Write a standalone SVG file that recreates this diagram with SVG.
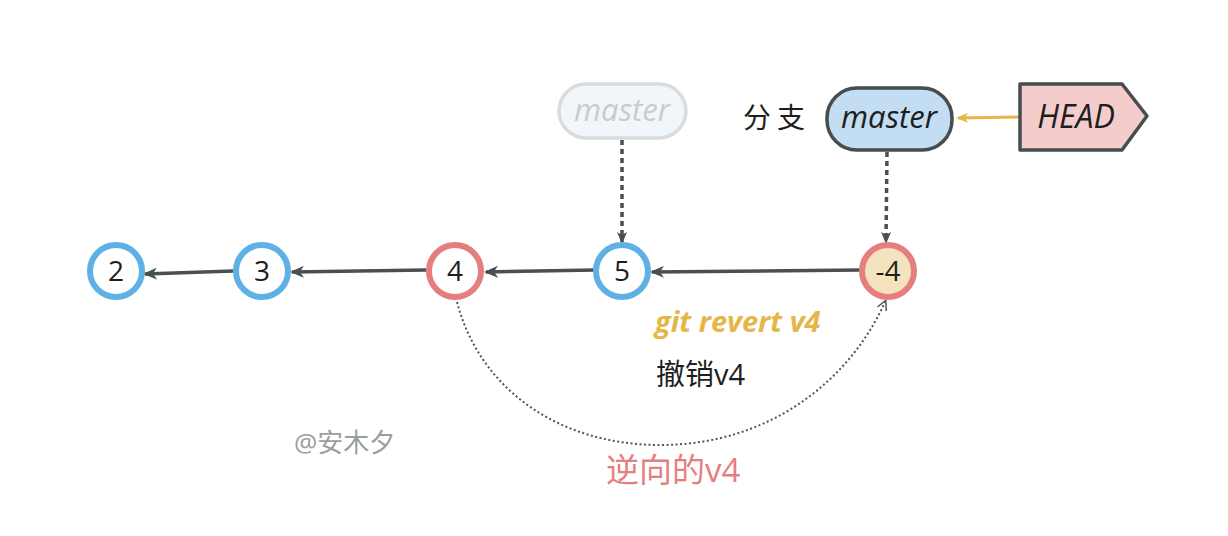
<svg xmlns="http://www.w3.org/2000/svg" width="1228" height="536" viewBox="0 0 1228 536">
<style>
text{font-family:"Open Sans","Noto Sans","Noto Sans CJK SC",sans-serif;}
.c{stroke-width:6;fill:#fff;}
.blue{stroke:#5fb0e4;}
.red{stroke:#e57f7f;}
.num{font-size:28px;fill:#1e1e1e;text-anchor:middle;}
.line{stroke:#4a4f50;stroke-width:3.5;fill:none;}
.dot{stroke:#4a4f50;stroke-width:3.5;fill:none;stroke-dasharray:5 4;}
.lbl{font-size:31px;font-style:italic;text-anchor:middle;}
</style>
<defs>
<marker id="ah" viewBox="0 0 12 10" refX="10" refY="5" markerWidth="12" markerHeight="10" markerUnits="userSpaceOnUse" orient="auto">
<path d="M0,0 L12,5 L0,10 L3,5 Z" fill="#4a4f50"/>
</marker>
<marker id="ahs" viewBox="0 0 14 12" refX="12" refY="6" markerWidth="14" markerHeight="12" markerUnits="userSpaceOnUse" orient="auto">
<path d="M0,0 L14,6 L0,12 L4,6 Z" fill="#4a4f50"/>
</marker>
<marker id="ahy" viewBox="0 0 12 10" refX="10" refY="5" markerWidth="12" markerHeight="10" markerUnits="userSpaceOnUse" orient="auto">
<path d="M0,0 L12,5 L0,10 L3,5 Z" fill="#e5b64a"/>
</marker>
<marker id="ahd" viewBox="0 0 10 10" refX="8" refY="5" markerWidth="10" markerHeight="10" markerUnits="userSpaceOnUse" orient="auto">
<path d="M0,0 L10,5 L0,10" fill="none" stroke="#555" stroke-width="1.5"/>
</marker>
</defs>
<rect width="1228" height="536" fill="#fff"/>
<g id="connectors">
<path class="line" d="M233,271 L145,274" marker-end="url(#ahs)"/>
<path class="line" d="M426,270 L292,272" marker-end="url(#ahs)"/>
<path class="line" d="M595,270 L486,272" marker-end="url(#ahs)"/>
<path class="line" d="M860,270 L652,272" marker-end="url(#ahs)"/>
<path class="dot" d="M622,140 L622,242" marker-end="url(#ah)"/>
<path class="dot" d="M887,152 L886,242" marker-end="url(#ah)"/>
<path d="M1020,117 L958,118" stroke="#e5b64a" stroke-width="3" fill="none" marker-end="url(#ahy)"/>
<path d="M457,302 C480,390 560,445 660,445 C770,445 850,380 885,302" stroke="#555" stroke-width="2" stroke-dasharray="2 2.5" fill="none" marker-end="url(#ahd)"/>
</g>
<g id="node-2"><circle class="c blue" cx="116" cy="271" r="26"/><text class="num" x="116" y="281">2</text></g>
<g id="node-3"><circle class="c blue" cx="262" cy="271" r="26"/><text class="num" x="262" y="281">3</text></g>
<g id="node-4"><circle class="c red" cx="455" cy="271" r="26"/><text class="num" x="455" y="281">4</text></g>
<g id="node-5"><circle class="c blue" cx="622" cy="271" r="26"/><text class="num" x="622" y="281">5</text></g>
<g id="node-neg4"><circle class="c red" cx="888" cy="271" r="26" style="fill:#f4e3bd"/><text class="num" x="888" y="281">-4</text></g>
<g id="ghost-master">
<rect x="559" y="84" width="127" height="54" rx="27" fill="#f1f6fb" stroke="#d9dcdd" stroke-width="3.5"/>
<text class="lbl" x="622" y="121" fill="#c7cccf">master</text>
</g>
<g id="master">
<rect x="827" y="88" width="125" height="62" rx="30" fill="#c3def2" stroke="#474c4e" stroke-width="3.5"/>
<text class="lbl" x="889" y="128" fill="#1e1e1e">master</text>
</g>
<g id="branch-label"><text x="777" y="128" font-size="28" text-anchor="middle" fill="#1e1e1e" letter-spacing="6">分支</text></g>
<g id="head">
<path d="M1020,84 L1122,84 L1147,116 L1122,150 L1020,150 Z" fill="#f4cccc" stroke="#474c4e" stroke-width="3.5" stroke-linejoin="round"/>
<text class="lbl" x="1076" y="128" fill="#1e1e1e" style="font-size:32px">HEAD</text>
</g>
<text x="655" y="332" font-size="29" font-weight="bold" font-style="italic" fill="#e5b64a">git revert v4</text>
<text x="656" y="385" font-size="29" fill="#1e1e1e">撤销v4</text>
<text x="606" y="482" font-size="33" fill="#e57f7f">逆向的v4</text>
<text x="294" y="452" font-size="26" fill="#9a9e9f">@安木夕</text>
</svg>
